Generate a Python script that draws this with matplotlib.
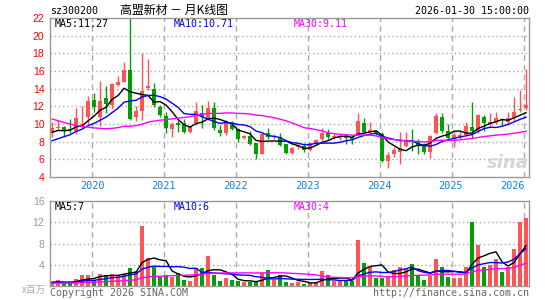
import numpy as np
import matplotlib.pyplot as plt

# monthly k-line, Jun 2019 .. Jan 2026
opens = [9.05, 9.6, 9.7, 9.4, 9.25, 9.9, 10.75, 12.7, 10.75, 12.95,
         12.1, 14.45, 14.75, 16.1, 10.8, 11.5, 14.1, 13.95, 11.9, 10.9,
         9.4, 10.1, 10.1, 9.1, 10.1, 11.2, 10.6, 11.8, 9.3, 8.95,
         9.9, 9.4, 8.4, 8.6, 7.8, 6.66, 9.0, 8.5, 8.55, 7.7,
         6.7, 7.45, 7.55, 7.1, 7.8, 8.25, 9.0, 8.5, 8.45, 8.6,
         8.55, 8.75, 10.15, 9.1, 9.2, 8.9, 5.85, 6.65, 6.85, 7.55,
         8.15, 8.0, 7.7, 6.85, 8.95, 10.75, 9.25, 8.4, 8.55, 8.75,
         9.7, 9.25, 10.8, 10.0, 10.25, 10.6, 10.2, 10.65, 11.6, 11.85]
highs = [10.2, 10.4, 9.75, 10.55, 11.8, 12.0, 13.2, 13.5, 14.9, 14.3,
         14.6, 15.4, 17.0, 22.8, 12.0, 18.0, 17.4, 14.6, 12.2, 11.4,
         10.2, 10.45, 10.6, 9.8, 12.5, 12.1, 12.6, 12.5, 9.9, 10.4,
         10.3, 9.6, 8.75, 9.2, 7.8, 9.0, 9.5, 8.9, 9.0, 7.75,
         7.35, 7.7, 7.8, 7.9, 8.3, 9.5, 9.4, 9.0, 8.9, 8.9,
         8.6, 11.3, 10.7, 10.2, 9.35, 9.1, 6.85, 7.4, 9.1, 9.1,
         9.45, 8.3, 7.85, 8.75, 11.3, 11.2, 10.0, 9.2, 9.25, 10.25,
         12.5, 11.1, 11.0, 11.2, 11.4, 10.7, 11.4, 13.1, 13.9, 16.2]
lows = [8.55, 9.3, 8.65, 9.0, 8.85, 9.5, 10.05, 11.4, 9.8, 11.2,
        11.7, 14.3, 14.7, 10.45, 10.35, 10.5, 13.9, 11.9, 10.8, 9.0,
        8.5, 9.1, 9.0, 9.0, 9.9, 9.6, 10.4, 9.3, 8.6, 8.8,
        9.3, 8.0, 8.3, 7.6, 6.05, 6.6, 8.25, 8.3, 7.5, 6.55,
        6.55, 7.2, 6.8, 6.95, 7.7, 8.1, 8.3, 8.35, 8.2, 7.75,
        7.7, 8.7, 9.0, 9.0, 8.75, 5.7, 5.0, 6.3, 5.45, 7.4,
        6.9, 6.6, 6.6, 6.2, 8.9, 9.0, 8.2, 7.4, 8.3, 8.6,
        8.4, 9.0, 9.2, 9.8, 10.0, 9.9, 9.9, 10.3, 11.4, 11.6]
closes = [9.5, 9.7, 9.25, 9.3, 10.65, 10.0, 12.6, 11.95, 12.6, 12.3,
          14.5, 14.75, 16.1, 10.6, 11.5, 13.7, 14.3, 12.2, 11.0, 9.5,
          10.0, 9.9, 9.1, 9.75, 11.5, 10.8, 11.8, 9.5, 8.95, 10.3,
          9.45, 8.3, 8.6, 7.75, 6.6, 8.9, 8.5, 8.65, 7.6, 6.7,
          7.3, 7.55, 7.05, 7.8, 8.2, 9.0, 8.5, 8.65, 8.6, 8.4,
          8.3, 10.35, 9.15, 9.35, 9.0, 5.85, 6.5, 7.05, 7.3, 8.2,
          7.95, 7.5, 6.85, 8.65, 10.9, 9.25, 8.4, 8.75, 8.7, 9.75,
          9.25, 11.0, 10.1, 10.25, 10.65, 10.5, 10.65, 11.4, 11.75, 12.15]
# volume, millions of shares
volumes = [0.6, 1.2, 0.5, 0.5, 1.4, 2.0, 2.0, 1.2, 2.3, 2.1,
           2.3, 2.15, 2.3, 3.35, 2.9, 11.3, 5.25, 3.5, 1.65, 2.1,
           1.65, 2.5, 1.2, 1.0, 3.35, 3.35, 5.6, 2.0, 0.9, 1.45,
           1.1, 0.9, 0.7, 0.7, 0.7, 2.4, 3.0, 1.2, 2.1, 0.7,
           0.5, 0.7, 0.4, 0.6, 0.8, 2.8, 2.0, 0.9, 0.9, 0.9,
           0.9, 8.6, 4.4, 3.6, 1.6, 1.6, 1.95, 3.0, 3.6, 3.2,
           4.2, 1.85, 1.2, 1.85, 5.0, 3.6, 1.7, 1.55, 1.55, 3.6,
           12.0, 7.65, 3.6, 3.9, 5.0, 2.7, 3.6, 6.9, 12.0, 12.8]
# months before the window, only used for the moving averages
prior_close = [15.5, 15.0, 14.8, 14.6, 14.5, 14.6, 14.4, 14.2,
               13.8, 13.0, 12.2, 11.5, 10.6, 9.6, 8.6, 7.45,
               8.4, 8.0, 7.7, 7.35, 7.3, 7.0, 7.1, 6.9, 7.45,
               8.6, 9.4, 9.0, 8.75]
prior_volume = [0.6, 0.5, 0.5, 0.4, 0.5, 0.6, 0.5, 0.4, 0.4, 0.5,
                0.4, 0.5, 0.6, 0.5, 0.4, 0.4, 0.5, 0.4, 0.5, 0.4,
                0.5, 0.6, 0.4, 0.5, 0.7, 0.9, 0.8, 0.7, 0.6]

start_year, start_month = 2019, 6
years = [2020, 2021, 2022, 2023, 2024, 2025, 2026]
price_ticks = [4, 6, 8, 10, 12, 14, 16, 18, 20, 22]
vol_ticks = [4, 8, 12, 16]

RED = '#ff5454'
GREEN = '#00a000'
GRID = '#aaaaaa'
FRAME = '#999999'
MONO = 'DejaVu Sans Mono'

n = len(closes)
x = np.arange(n)


def moving_avg(prior, vals, w):
    allv = np.array(prior + vals, dtype=float)
    out = np.convolve(allv, np.ones(w) / w, mode='valid')
    return out[-n:]


W, H = 545, 300
fig = plt.figure(figsize=(W / 100, H / 100), dpi=100)


def fx(px):
    return px / W


def fy(py):
    return 1 - py / H


ax = fig.add_axes([fx(50), fy(177), fx(529) - fx(50), fy(18) - fy(177)])
axv = fig.add_axes([fx(50), fy(286), fx(529) - fx(50), fy(201) - fy(286)])

year_pos = [(y - start_year) * 12 + 1 - start_month - 0.3 for y in years]

for a in (ax, axv):
    a.set_xlim(-0.35, n - 0.5)
    for p in year_pos:
        a.axvline(p, color=GRID, lw=1, ls=(0, (4, 3)), zorder=0)
    for s in a.spines.values():
        s.set_color(FRAME)
        s.set_linewidth(1)
    a.set_xticks([])
    a.tick_params(axis='y', length=0, pad=4)

# price panel
ax.set_ylim(4, 22)
for t in price_ticks[1:-1]:
    ax.axhline(t, color=GRID, lw=1, ls=(0, (1, 2)), zorder=0)
ax.set_yticks(price_ticks)
ax.set_yticklabels([str(t) for t in price_ticks], color='red',
                   fontsize=7.5, family='Liberation Sans')

for i in range(n):
    o, h, l, c = opens[i], highs[i], lows[i], closes[i]
    col = RED if c >= o else GREEN
    ax.vlines(i, l, h, color=col, lw=1, zorder=2)
    body = max(abs(c - o), 0.07)
    ax.bar(i, body, bottom=min(o, c), width=0.72, color=col, lw=0, zorder=3)

ax.plot(x, moving_avg(prior_close, closes, 5), color='black', lw=1, zorder=4)
ax.plot(x, moving_avg(prior_close, closes, 10), color='blue', lw=1, zorder=4)
ax.plot(x, moving_avg(prior_close, closes, 30), color='magenta', lw=1, zorder=4)

# volume panel
axv.set_ylim(0, 16)
for t in vol_ticks[:-1]:
    axv.axhline(t, color=GRID, lw=1, ls=(0, (1, 2)), zorder=0)
axv.set_yticks(vol_ticks)
axv.set_yticklabels([str(t) for t in vol_ticks], color='#999999',
                    fontsize=7.5, family='Liberation Sans')
vcols = [RED if closes[i] >= opens[i] else GREEN for i in range(n)]
axv.bar(x, volumes, width=0.75, color=vcols, lw=0, zorder=2)
axv.plot(x, moving_avg(prior_volume, volumes, 5), color='black', lw=1, zorder=4)
axv.plot(x, moving_avg(prior_volume, volumes, 10), color='blue', lw=1, zorder=4)
axv.plot(x, moving_avg(prior_volume, volumes, 30), color='magenta', lw=1, zorder=4)

# texts
fig.text(fx(50), fy(11), 'sz300200', family=MONO, fontsize=7.2, va='center')
fig.text(fx(120), fy(10), '高盟新材 － 月K线图',
         family=['Noto Sans CJK SC', 'DejaVu Sans'], fontsize=8.6, va='center')
fig.text(fx(529), fy(11), '2026-01-30 15:00:00', family=MONO, fontsize=7.2,
         va='center', ha='right')

fig.text(fx(55), fy(24), 'MA5:11.27', family=MONO, fontsize=7.2, va='center', color='black')
fig.text(fx(174), fy(24), 'MA10:10.71', family=MONO, fontsize=7.2, va='center', color='blue')
fig.text(fx(294), fy(24), 'MA30:9.11', family=MONO, fontsize=7.2, va='center', color='magenta')

fig.text(fx(55), fy(207), 'MA5:7', family=MONO, fontsize=7.2, va='center', color='black')
fig.text(fx(174), fy(207), 'MA10:6', family=MONO, fontsize=7.2, va='center', color='blue')
fig.text(fx(294), fy(207), 'MA30:4', family=MONO, fontsize=7.2, va='center', color='magenta')

for yr, p in zip(years, year_pos):
    px = 50 + (p + 0.35) * 479 / (n + 0.15)
    px = min(px, 512)
    fig.text(fx(px), fy(186), str(yr), family=MONO, fontsize=7.4,
             color='#1a7fcf', ha='center', va='center')

fig.text(fx(46), fy(290), 'x百万', family=['Noto Sans CJK SC', 'DejaVu Sans'],
         fontsize=7, color='#aaaaaa', ha='right', va='center')
fig.text(fx(50), fy(293), 'Copyright 2026 SINA.COM', family=MONO, fontsize=7.2,
         color='#666666', va='center')
fig.text(fx(529), fy(293), 'http://finance.sina.com.cn', family=MONO, fontsize=7.2,
         color='#666666', va='center', ha='right')

# sina watermark
ax.text(0.955, 0.09, 'sina', transform=ax.transAxes, fontsize=13,
        fontweight='bold', style='italic', color='#d5d5d5', ha='center',
        va='center', zorder=1)

fig.savefig('out.png', dpi=100)
